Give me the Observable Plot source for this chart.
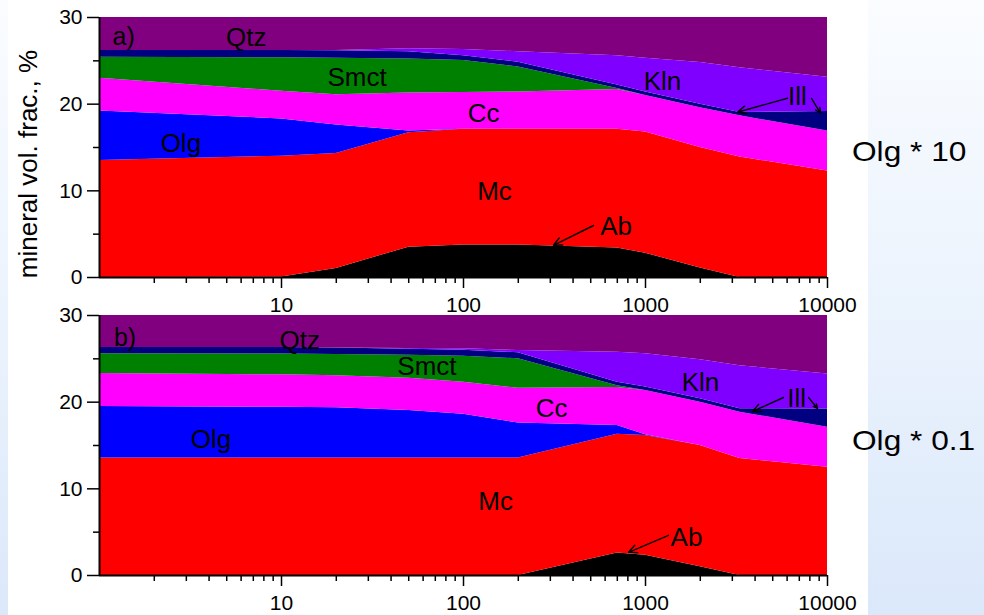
<!DOCTYPE html>
<html>
<head>
<meta charset="utf-8">
<script src="https://cdn.jsdelivr.net/npm/d3@7"></script>
<script src="https://cdn.jsdelivr.net/npm/@observablehq/plot@0.6"></script>
<style>
  html, body { margin: 0; padding: 0; }
  body {
    width: 984px; height: 615px; overflow: hidden; position: relative;
    background: linear-gradient(to bottom, #fafcff 0%, #ebf3fd 50%, #dbe8fa 100%);
    font-family: "Liberation Sans", Arial, sans-serif;
  }
  #white { position: absolute; left: 8px; top: 0; width: 860px; height: 615px; background: #ffffff; }
  .panel { position: absolute; left: 0; }
  .side { position: absolute; font-size: 28px; color: #000; white-space: nowrap;
          transform: scaleX(1.13); transform-origin: left center; }
  #ylab { position: absolute; left: 28px; top: 164px; font-size: 26px; white-space: nowrap;
          transform: translate(-50%, -50%) rotate(-90deg); color: #000; }
</style>
</head>
<body>
<div id="white"></div>
<div id="pa" class="panel" style="top:0px"></div>
<div id="pb" class="panel" style="top:298px"></div>
<div id="ylab">mineral vol. frac., %</div>
<div class="side" style="left:852px; top:136px">Olg * 10</div>
<div class="side" style="left:852px; top:425px">Olg * 0.1</div>
<script>
// ---- data ----
const xs = [1, 10, 20, 50, 100, 200, 700, 1000, 2000, 3300, 10000];
const minerals = ["Ab", "Mc", "Olg", "Cc", "Smct", "Ill", "Kln", "Qtz"];
const mineralColors = ["#000000", "#ff0000", "#0000ff", "#ff00ff", "#008000", "#000080", "#8000ff", "#800080"];

// panel a) Olg * 10
const aAb   = [0, 0.05, 1.05, 3.5, 3.75, 3.75, 3.4, 2.8, 1.1, 0, 0];
const aMc   = [13.5, 13.95, 13.25, 13.2, 13.35, 13.35, 13.7, 14.0, 13.9, 13.9, 12.3];
const aOlg  = [5.7, 4.3, 3.3, 0.2, 0, 0, 0, 0, 0, 0, 0];
const aCc   = [3.8, 3.2, 3.5, 4.4, 4.25, 4.3, 4.6, 4.2, 4.6, 4.75, 4.6];
const aSmct = [2.4, 3.85, 4.2, 3.9, 3.7, 2.9, 0.1, 0, 0, 0, 0];
const aIll  = [0.8, 0.85, 0.85, 0.85, 0.55, 0.55, 0.4, 0.4, 0.4, 0.4, 2.25];
const aKln  = [0, 0, 0.05, 0.35, 0.7, 1.2, 3.4, 3.9, 4.8, 5.15, 3.95];
const aQtz  = [3.8, 3.8, 3.8, 3.6, 3.7, 3.95, 4.4, 4.7, 5.2, 5.8, 6.9];

// panel b) Olg * 0.1
const bAb   = [0, 0, 0, 0, 0, 0, 2.6, 2.35, 1.0, 0, 0];
const bMc   = [13.55, 13.55, 13.55, 13.55, 13.55, 13.55, 13.7, 13.8, 14.0, 13.5, 12.5];
const bOlg  = [5.95, 5.85, 5.8, 5.5, 5.05, 4.05, 1.0, 0.1, 0, 0, 0];
const bCc   = [3.8, 3.75, 3.7, 3.7, 3.7, 4.0, 4.4, 5.1, 5.0, 5.35, 4.6];
const bSmct = [2.3, 2.4, 2.45, 2.65, 3.0, 3.4, 0.2, 0, 0, 0, 0];
const bIll  = [0.7, 0.75, 0.75, 0.7, 0.7, 0.7, 0.4, 0.4, 0.4, 0.4, 2.1];
const bKln  = [0, 0, 0, 0.1, 0.15, 0.25, 3.45, 3.85, 4.5, 4.95, 4.05];
const bQtz  = [3.7, 3.7, 3.75, 3.8, 3.85, 4.05, 4.25, 4.4, 5.1, 5.8, 6.75];

// axis ticks
const xMajorTicks = [10, 100, 1000, 10000];
const xMinorTicks = [2,3,4,5,6,7,8,9, 20,30,40,50,60,70,80,90, 200,300,400,500,600,700,800,900, 2000,3000,4000,5000,6000,7000,8000,9000];
const yMajorTicks = [0, 10, 20, 30];
const yMinorTicks = [5, 15, 25];

// labels (data coordinates)
const labelsA = [
  {t: "Qtz", x: 6.4, y: 27.7}, {t: "Smct", x: 26, y: 23.1}, {t: "Olg", x: 2.8, y: 15.4},
  {t: "Cc", x: 129, y: 18.9}, {t: "Mc", x: 148, y: 9.85}, {t: "Ab", x: 690, y: 5.9},
  {t: "Kln", x: 1240, y: 22.6}, {t: "Ill", x: 6840, y: 20.9}
];
const tagA = [{t: "a)", x: 1.18, y: 27.7}];
const arrowsA = [
  {x1: 518, y1: 6.0, x2: 312, y2: 3.72},
  {x1: 6030, y1: 20.68, x2: 3200, y2: 19.07},
  {x1: 8170, y1: 20.68, x2: 9150, y2: 18.95}
];
const labelsB = [
  {t: "Qtz", x: 12.6, y: 27.1}, {t: "Smct", x: 63, y: 24.1}, {t: "Olg", x: 4.1, y: 15.7},
  {t: "Cc", x: 305, y: 19.2}, {t: "Mc", x: 150, y: 8.55}, {t: "Ab", x: 1680, y: 4.4},
  {t: "Kln", x: 2005, y: 22.3}, {t: "Ill", x: 6760, y: 20.4}
];
const tagB = [{t: "b)", x: 1.2, y: 27.4}];
const arrowsB = [
  {x1: 1337, y1: 4.64, x2: 807, y2: 2.68},
  {x1: 5730, y1: 20.54, x2: 3870, y2: 18.93},
  {x1: 7870, y1: 20.54, x2: 8810, y2: 19.27}
];

// ---- build tables ----
function table(series) {
  const rows = [];
  minerals.forEach((m, k) => series[k].forEach((v, i) => rows.push({x: xs[i], v, m})));
  return rows;
}
const dataA = table([aAb, aMc, aOlg, aCc, aSmct, aIll, aKln, aQtz]);
const dataB = table([bAb, bMc, bOlg, bCc, bSmct, bIll, bKln, bQtz]);

const FONT = "'Liberation Sans', Arial, sans-serif";

function panel(data, labels, tag, arrows, height, marginBottom) {
  return Plot.plot({
    width: 870, height,
    marginLeft: 99, marginRight: 43, marginTop: 17, marginBottom,
    style: {background: "transparent", fontFamily: FONT, color: "#000", overflow: "visible"},
    x: {type: "log", domain: [1, 10000], axis: null, label: null},
    y: {domain: [0, 30], axis: null, label: null},
    color: {domain: minerals, range: mineralColors},
    marks: [
      Plot.areaY(data, Plot.stackY({x: "x", y: "v", fill: "m", order: minerals})),
      Plot.axisX({ticks: xMajorTicks, tickSize: 11, tickPadding: 9, strokeWidth: 1.5, fontSize: 21, tickFormat: d => String(d), label: null}),
      Plot.axisX({ticks: xMinorTicks, tickSize: 6, strokeWidth: 1.5, fill: "none", label: null}),
      Plot.axisY({ticks: yMajorTicks, tickSize: 12, tickPadding: 5, strokeWidth: 1.5, fontSize: 21, tickFormat: d => String(d), label: null}),
      Plot.axisY({ticks: yMinorTicks, tickSize: 6, strokeWidth: 1.5, fill: "none", label: null}),
      Plot.ruleY([0], {stroke: "#000", strokeWidth: 2}),
      Plot.ruleX([1], {stroke: "#000", strokeWidth: 2}),
      Plot.text(labels, {x: "x", y: "y", text: "t", fontSize: 26, fill: "#000", textAnchor: "middle"}),
      Plot.text(tag, {x: "x", y: "y", text: "t", fontSize: 25, fill: "#000", textAnchor: "start"}),
      Plot.arrow(arrows, {x1: "x1", y1: "y1", x2: "x2", y2: "y2", stroke: "#000", strokeWidth: 1.4, headLength: 10, headAngle: 50})
    ]
  });
}

document.getElementById("pa").appendChild(panel(dataA, labelsA, tagA, arrowsA, 320, 43));
document.getElementById("pb").appendChild(panel(dataB, labelsB, tagB, arrowsB, 317, 40));
</script>
</body>
</html>
